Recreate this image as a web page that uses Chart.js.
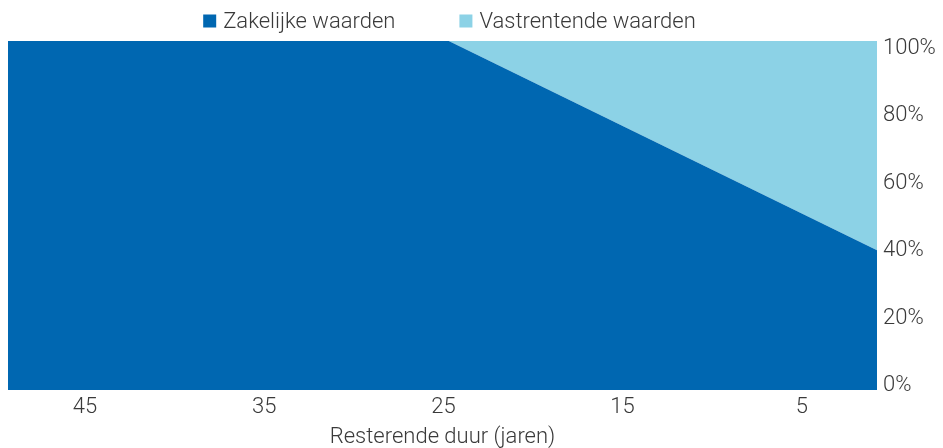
<!DOCTYPE html>
<html>
<head>
<meta charset="utf-8">
<script src="https://cdn.jsdelivr.net/npm/chart.js@4/dist/chart.umd.min.js"></script>
<style>
html,body{margin:0;padding:0;background:#fff;}
#wrap{width:943px;height:448px;position:relative;}
</style>
</head>
<body>
<div id="wrap"><canvas id="c" width="943" height="448"></canvas></div>
<script>
// Remaining term in years (x) and allocation shares in %
const years = [50, 24.7, 0];
const zakelijke = [100, 100, 38];
const vastrentende = [0, 0, 62];
const xTicks = [45, 35, 25, 15, 5];
const yTicks = [0, 20, 40, 60, 80, 100];
const seriesNames = ['Zakelijke waarden', 'Vastrentende waarden'];
const seriesColors = ['#0067B1', '#8CD2E6'];
const xTitle = 'Resterende duur (jaren)';

const FONT = 'Roboto, "Open Sans", sans-serif';
const TXT = '#3a3a3a';
const FSIZE = 22;

const legendPlugin = {
  id: 'customLegend',
  afterDraw(chart) {
    const ctx = chart.ctx;
    const ds = chart.data.datasets;
    ctx.save();
    ctx.font = '300 ' + FSIZE + 'px ' + FONT;
    ctx.textBaseline = 'middle';
    ctx.textAlign = 'left';
    const box = 13, gapText = 7, gapItem = 64;
    const widths = ds.map(d => ctx.measureText(d.label).width);
    let total = 0;
    widths.forEach((w, i) => { total += box + gapText + w + (i ? gapItem : 0); });
    const ca = chart.chartArea;
    let x = (ca.left + ca.right) / 2 + 7 - total / 2;
    const cy = 21;
    ds.forEach((d, i) => {
      ctx.fillStyle = d.backgroundColor;
      ctx.fillRect(x, cy - box / 2, box, box);
      ctx.fillStyle = TXT;
      ctx.fillText(d.label, x + box + gapText, cy + 1);
      x += box + gapText + widths[i] + gapItem;
    });
    ctx.restore();
  }
};

new Chart(document.getElementById('c'), {
  type: 'line',
  data: {
    datasets: [
      {label: seriesNames[0], data: years.map((y, i) => ({x: y, y: zakelijke[i]})), backgroundColor: seriesColors[0], borderColor: seriesColors[0], borderWidth: 0, fill: 'origin', pointRadius: 0, tension: 0},
      {label: seriesNames[1], data: years.map((y, i) => ({x: y, y: vastrentende[i]})), backgroundColor: seriesColors[1], borderColor: seriesColors[1], borderWidth: 0, fill: '-1', pointRadius: 0, tension: 0}
    ]
  },
  options: {
    responsive: false,
    animation: false,
    layout: {padding: {left: 8, right: 0, top: 41, bottom: 0}},
    plugins: {
      tooltip: {enabled: false},
      legend: {display: false}
    },
    scales: {
      x: {
        type: 'linear', reverse: true, min: 0.8, max: 49.3,
        grid: {display: false, drawTicks: false},
        border: {display: false},
        afterBuildTicks: (ax) => { ax.ticks = xTicks.map(v => ({value: v})); },
        afterFit: (ax) => { ax.height = 58; },
        ticks: {font: {family: FONT, size: FSIZE, weight: '300', lineHeight: 1.2}, color: TXT, padding: 4, maxRotation: 0, autoSkip: false},
        title: {display: true, text: xTitle, font: {family: FONT, size: FSIZE, weight: '300', lineHeight: 1.0}, color: TXT, padding: {top: 0, bottom: 0}}
      },
      y: {
        display: false, position: 'right', stacked: true, min: 0, max: 100
      },
      yLabels: {
        type: 'linear', position: 'right', min: -1.2, max: 102.1,
        grid: {display: false, drawTicks: false},
        border: {display: false},
        afterBuildTicks: (ax) => { ax.ticks = yTicks.map(v => ({value: v})); },
        afterFit: (ax) => { ax.width = 66; },
        ticks: {font: {family: FONT, size: FSIZE, weight: '300'}, color: TXT, padding: 6, callback: (v) => v + '%'}
      }
    }
  },
  plugins: [legendPlugin]
});
</script>
</body>
</html>
